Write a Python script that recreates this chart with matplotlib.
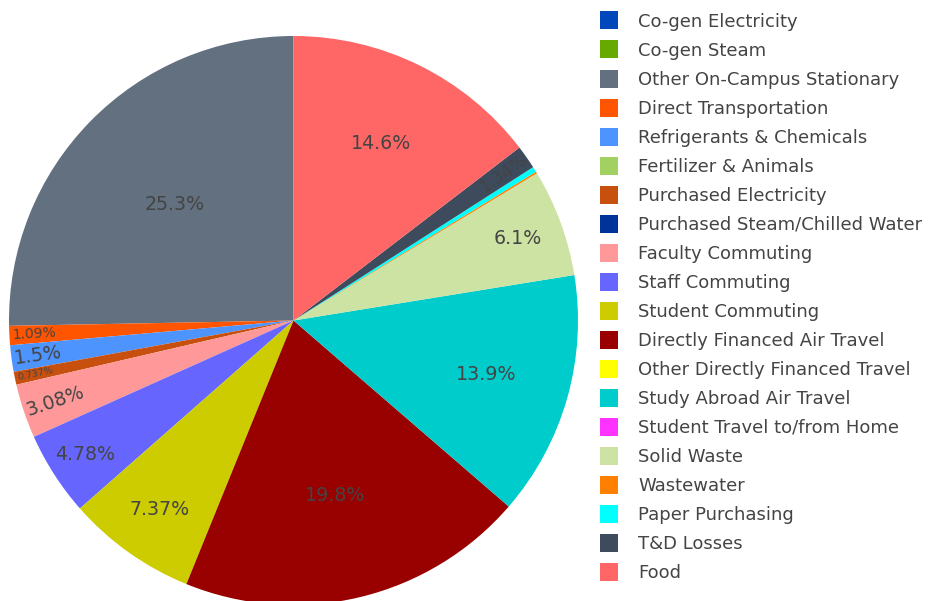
import matplotlib
matplotlib.use("Agg")
import matplotlib.pyplot as plt
import numpy as np
from matplotlib.lines import Line2D
from matplotlib.textpath import TextPath
from matplotlib.font_manager import FontProperties

categories = [
    "Co-gen Electricity", "Co-gen Steam", "Other On-Campus Stationary",
    "Direct Transportation", "Refrigerants & Chemicals", "Fertilizer & Animals",
    "Purchased Electricity", "Purchased Steam/Chilled Water", "Faculty Commuting",
    "Staff Commuting", "Student Commuting", "Directly Financed Air Travel",
    "Other Directly Financed Travel", "Study Abroad Air Travel",
    "Student Travel to/from Home", "Solid Waste", "Wastewater",
    "Paper Purchasing", "T&D Losses", "Food",
]
values = [0, 0, 25.3, 1.09, 1.5, 0, 0.737, 0, 3.08, 4.78, 7.37, 19.8, 0,
          13.9, 0, 6.1, 0.103, 0.30, 1.34, 14.6]
colors = [
    "#0047bb", "#66aa00", "#627080", "#ff5500", "#4d94ff", "#a3d063",
    "#c8500f", "#003399", "#ff9999", "#6666ff", "#cccc00", "#990000",
    "#ffff00", "#00cccc", "#ff33ff", "#cde3a3", "#ff8000", "#00ffff",
    "#3d4b5c", "#ff6666",
]

W, H = 933, 601
fig = plt.figure(figsize=(W / 100, H / 100), dpi=100)
cx, cy, R = 293.5, 320.5, 284.5
ax = fig.add_axes([(cx - R) / W, (H - cy - R) / H, 2 * R / W, 2 * R / H])

wedges, _ = ax.pie(values, colors=colors, startangle=90, counterclock=True,
                   radius=1, wedgeprops=dict(linewidth=0))
ax.set_xlim(-1, 1)
ax.set_ylim(-1, 1)

fp = FontProperties(family="DejaVu Sans")


def text_width(s, size_px):
    return TextPath((0, 0), s, size=size_px, prop=fp).get_extents().width


total = sum(values)
FS = 19.0
for w, v in zip(wedges, values):
    pct = v / total * 100
    if pct < 0.5:
        continue
    t1, t2 = w.theta1, w.theta2
    mid = np.deg2rad((t1 + t2) / 2)
    half = np.deg2rad((t2 - t1) / 2)
    label = f"{pct:.3g}%"
    if pct >= 4:
        s = np.sin(half) if half < np.pi / 2 else 1.0
        r = 1 - s / (1 + s)
        fs = FS
        rot = 0
    else:
        fs = FS
        for _ in range(6):
            wpx = text_width(label, fs)
            r = 1 - (wpx / 2 + 4) / R
            arc = 2 * half * R * r
            fs = min(FS, 0.78 * arc)
        wpx = text_width(label, fs)
        r = 1 - (wpx / 2 + 4) / R
        rot = np.rad2deg(mid) % 360
        if 90 < rot < 270:
            rot -= 180
    ax.text(r * np.cos(mid), r * np.sin(mid), label, fontsize=fs * 0.72,
            rotation=rot, rotation_mode="anchor", ha="center", va="center",
            color="#444444")

handles = [Line2D([], [], marker="s", ls="none", markersize=13.2,
                  markerfacecolor=c, markeredgewidth=0) for c in colors]
fig.legend(handles, categories, loc="upper left",
           bbox_to_anchor=(599.5 / W, 1 - 12.8 / H), frameon=False,
           fontsize=13, handlelength=1.0, handletextpad=1.14,
           labelspacing=0.61, borderpad=0, borderaxespad=0,
           labelcolor="#444444")

fig.savefig("out.png", dpi=100)
